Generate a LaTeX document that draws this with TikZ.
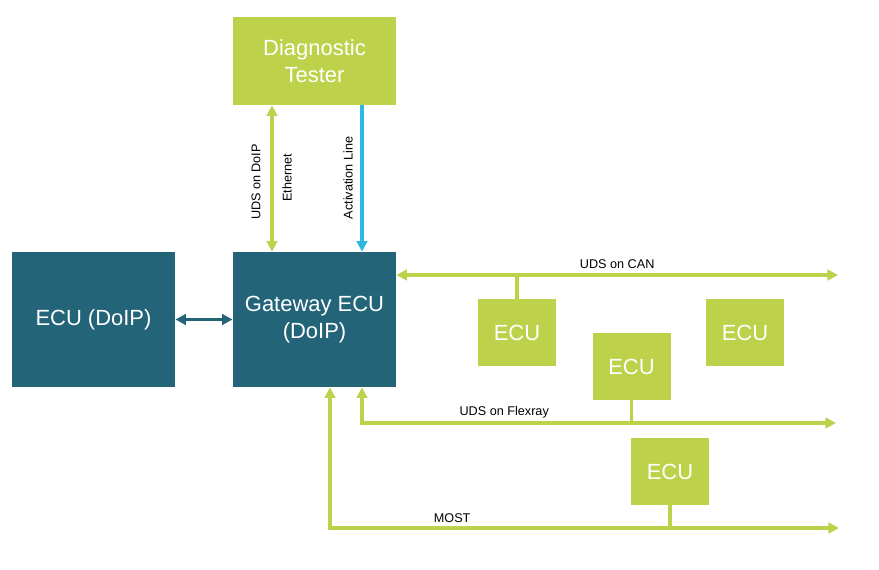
\documentclass[tikz,border=0pt]{standalone}
\usepackage{fontspec}
\setmainfont{Liberation Sans}
\usetikzlibrary{arrows.meta,positioning}
\definecolor{lime}{HTML}{BDD14A}
\definecolor{teal}{HTML}{236479}
\definecolor{sky}{HTML}{2BB8E3}
\tikzset{
  ecu/.style={fill=lime,text=white,font=\fontsize{12.5}{14}\selectfont,minimum width=78*0.02cm,minimum height=67*0.02cm,inner sep=0pt},
  gw/.style={fill=teal,text=white,font=\fontsize{12.5}{15}\selectfont,align=center,minimum width=163*0.02cm,minimum height=135*0.02cm,inner sep=0pt},
  bus/.style={draw=lime,line width=1.8pt,-{Triangle[length=6pt,width=6pt]}},
  both/.style={{Triangle[length=6pt,width=6pt]}-{Triangle[length=6pt,width=6pt]}},
  lbl/.style={font=\fontsize{7.2}{8}\selectfont,inner sep=1pt}
}
\begin{document}
\begin{tikzpicture}[x=0.02cm,y=-0.02cm]
      \useasboundingbox (0,0) rectangle (879,569);

      % main units
      \node[gw,fill=lime,minimum height=88*0.02cm] (tester) at (314.5,61) {Diagnostic\\Tester};
      \node[gw] (gateway) at (314.5,319.5) {Gateway ECU\\(DoIP)};
      \node[gw] (doip) at (93.5,319.5) {ECU (DoIP)};

      % ECUs on the buses
      \node[ecu] (ecuA) at (517,332.5) {ECU};
      \node[ecu] (ecuB) at (631.5,366.5) {ECU};
      \node[ecu] (ecuC) at (745,332.5) {ECU};
      \node[ecu] (ecuD) at (670,471.5) {ECU};

      % free ends of the buses
      \coordinate (canEnd) at (838,275);
      \coordinate (frEnd) at (836,423);
      \coordinate (mostEnd) at (839,528);

      % tester links
      \draw[bus,both] (tester.south -| 272,0) -- (gateway.north -| 272,0);
      \node[lbl,rotate=90] (udsdoip) at (256,182) {UDS on DoIP};
      \node[lbl,rotate=90] (eth) at (287,178) {Ethernet};
      \draw[bus,draw=sky] (tester.south -| 362,0) -- (gateway.north -| 362,0);
      \node[lbl,rotate=90] (act) at (348,178) {Activation Line};

      \draw[bus,draw=teal,both] (doip) -- (gateway);

      % CAN
      \draw[bus,both] (gateway.east |- canEnd) -- (canEnd)
        node[lbl,pos=0.5,above=2pt] {UDS on CAN};
      \draw[lime,line width=1.8pt] (ecuA.north) -- (ecuA.north |- canEnd);

      % Flexray
      \draw[bus,both] (gateway.south -| 362,0) -- (362,423) -- (frEnd)
        node[lbl,pos=0.3,above=1pt] {UDS on Flexray};
      \draw[lime,line width=1.8pt] (ecuB.south) -- (ecuB.south |- frEnd);

      % MOST
      \draw[bus,both] (gateway.south -| 330,0) -- (330,528) -- (mostEnd)
        node[lbl,pos=0.24,above=1pt] {MOST};
      \draw[lime,line width=1.8pt] (ecuD.south) -- (ecuD.south |- mostEnd);
\end{tikzpicture}
\end{document}
